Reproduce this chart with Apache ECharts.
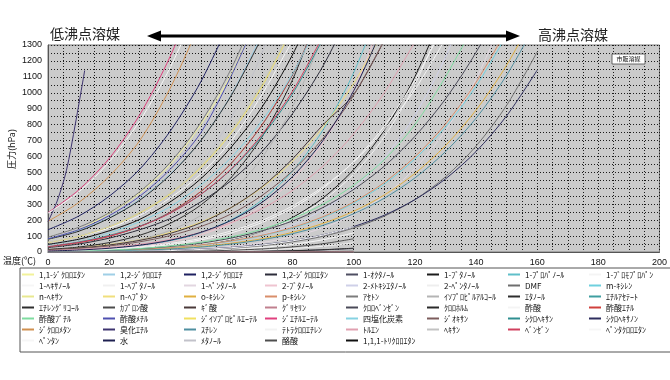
<!DOCTYPE html>
<html><head><meta charset="utf-8">
<script src="https://cdn.jsdelivr.net/npm/echarts@6/dist/echarts.min.js"></script>
<style>html,body{margin:0;padding:0;background:#fff}#c{width:670px;height:380px}</style>
</head><body><div id="c"></div>
<script>
// temperature grid (°C) shared by the series
const temps = [0,10,20,30,40,50,60,70,80,90,100,110,120,130,140,150,160];
const xTicks = [0,20,40,60,80,100,120,140,160,180,200];
const yTicks = [0,100,200,300,400,500,600,700,800,900,1000,1100,1200,1300];

// legend names (in legend order)
const seriesNames = [
 "1,1-ｼﾞｸﾛﾛｴﾀﾝ","1,2-ｼﾞｸﾛﾛｴﾁﾚﾝ(ｼｽ)","1,2-ｼﾞｸﾛﾛｴﾁﾚﾝ(ﾄﾗﾝｽ)","1,2-ｼﾞｸﾛﾛｴﾀﾝ","1-ｵｸﾀﾉｰﾙ","1-ﾌﾞﾀﾉｰﾙ","1-ﾌﾟﾛﾊﾟﾉｰﾙ","1-ﾌﾞﾛﾓﾌﾟﾛﾊﾟﾝ",
 "1-ﾍｷｻﾉｰﾙ","1-ﾍﾌﾟﾀﾉｰﾙ","1-ﾍﾟﾝﾀﾉｰﾙ","2-ﾌﾞﾀﾉｰﾙ","2-ﾒﾄｷｼｴﾀﾉｰﾙ","2-ﾍﾟﾝﾀﾉｰﾙ","DMF","m-ｷｼﾚﾝ",
 "n-ﾍｷｻﾝ","n-ﾍﾌﾟﾀﾝ","o-ｷｼﾚﾝ","p-ｷｼﾚﾝ","ｱｾﾄﾝ","ｲｿﾌﾟﾛﾋﾟﾙｱﾙｺｰﾙ","ｴﾀﾉｰﾙ","ｴﾁﾙｱｾﾃｰﾄ",
 "ｴﾁﾚﾝｸﾞﾘｺｰﾙ","ｶﾌﾟﾛﾝ酸","ｷﾞ酸","ｸﾞﾘｾﾘﾝ","ｸﾛﾛﾍﾞﾝｾﾞﾝ","ｸﾛﾛﾎﾙﾑ","酢酸","酢酸ｴﾁﾙ",
 "酢酸ﾌﾞﾁﾙ","酢酸ﾒﾁﾙ","ｼﾞｲｿﾌﾟﾛﾋﾟﾙｴｰﾃﾙ","ｼﾞｴﾁﾙｴｰﾃﾙ","四塩化炭素","ｼﾞｵｷｻﾝ","ｼｸﾛﾍｷｻﾝ","ｼｸﾛﾍｷｻﾉﾝ",
 "ｼﾞｸﾛﾛﾒﾀﾝ","臭化ｴﾁﾙ","ｽﾁﾚﾝ","ﾃﾄﾗｸﾛﾛｴﾁﾚﾝ","ﾄﾙｴﾝ","ﾍｷｻﾝ","ﾍﾞﾝｾﾞﾝ","ﾍﾟﾝﾀｸﾛﾛｴﾀﾝ",
 "ﾍﾟﾝﾀﾝ","水","ﾒﾀﾉｰﾙ","酪酸","1,1,1-ﾄﾘｸﾛﾛｴﾀﾝ"
];

// vapour pressure (hPa) read at temps 0,10,20,... (each list stops just past 1300)
const p01 = [77,140,243,370,550,800,1120,1550];
const p02 = [80,135,215,330,490,700,990,1370];
const p03 = [140,225,350,520,760,1070,1470];
const p04 = [28,50,87,140,210,315,450,630,870,1170,1550];
const p05 = [0,0.1,0.2,0.4,0.8,1.3,2.4,4.4,7.8,13.4,22];
const p06 = [1.3,2.8,5.6,11.5,24,45,79,131,217,340,518,765,1101,1547];
const p07 = [4.2,9.4,19.4,37.7,69,121,203,326,508,768,1127,1614];
const p08 = [60,100,150,230,340,490,700,990,1330];
const p09 = [0.3,0.8,1.5,3,5.5,10,17,29,48,77,120];
const p10 = [0.2,0.5,1,1.5,2.3,4.2,7.6,13,22,36,58];
const p11 = [0.7,1.5,3.1,6,11,20,35,59,96,152,235,354,525,762,1086,1523];
const p12 = [5,10,20,36,64,109,181,290,453,690,1019,1502];
const p13 = [1.5,3.2,6.6,12.5,22,39,66,108,171,265,400,592,859,1224,1713];
const p14 = [2,4,8,15,28,48,81,132,209,324,489,724,1050,1496];
const p15 = [0.8,1.5,3.5,5,8,14,24,40,64,99,151,225,329,472,665,921,1257];
const p16 = [3,5.6,10,17,27,44,68,102,150,217,307,427,584,785,1041,1363];
const p17 = [61,101,162,250,372,540,764,1055,1420];
const p18 = [15,27,47,78,123,188,280,405,570,785,1060,1400];
const p19 = [2.3,4.3,7.6,13,22,35,55,83,124,180,256,358,493,668,891,1173,1525];
const p20 = [3,5.8,10.5,17.5,28,45,70,105,154,222,314,437,598,803,1066,1395];
const p21 = [93,155,246,378,563,815,1154,1590];
const p22 = [11,22.4,42.6,77.7,136,229,374,592,911,1368];
const p23 = [16,31,59,105,180,295,470,723,1083,1580];
const p24 = [32.5,58,98.4,160,250,380,558,798,1115,1524];
const p25 = [0,0.1,0.1,0.3,0.8,1.5,2.6,4.7,8.4,14.3,24];
const p26 = [0,0,0,0,0.1,0.2,0.4,0.8,1.5,3,5];
const p27 = [15,25,44,73,117,183,280,410,585,800,990,1330];
const p28 = [0,0,0,0,0,0,0,0,0,0.1,0.2];
const p29 = [3.3,6.5,11.9,20.8,35,56,88,133,195,280,393,539,726,961,1254,1612];
const p30 = [80,130,212,325,485,700,985,1350];
const p31 = [4.1,8.2,15.3,27.3,46.5,76,120.5,185,276,401,569,791,1079,1447];
const p32 = [32.5,58,98.4,160,250,380,558,798,1115,1524];
const p33 = [4,7.5,13,22,38,61,95,143,210,300,420,580,800,1100,1450];
const p34 = [83,140,228,350,520,750,1110,1540];
const p35 = [59,98,159,245,365,530,750,1040,1410];
const p36 = [247,389,587,862,1230,1700];
const p37 = [44,75,120,190,285,420,595,825,1120,1500];
const p38 = [12,22,38,64,103,160,240,355,510,715,985,1330];
const p39 = [35,63,104,162,246,362,520,726,995,1340];
const p40 = [1,1.9,3.3,6,10.5,17.7,29,46,71,108,160,231,329,459,631,855,1142];
const p41 = [193,310,475,700,1030,1450];
const p42Temps = [0,3,6,9,12];
const p42 = [190,320,510,810,1140];
const p43 = [1.5,3,6,11,19,31,50,77,115,168,240,338,465,630,840,1110,1450];
const p44 = [6,11,19,32,54,85,133,198,290,410,565,770,1020,1340];
const p45 = [9,17,29,49,79,123,185,272,387,540,742,1000,1320];
const p46 = [61,101,162,250,372,540,764,1055,1420];
const p47 = [35,60,100,160,244,362,523,738,1010,1360];
const p48 = [0.5,1.2,2.5,5,9,16,27,44,70,107,160];
const p49 = [244,376,566,823,1160,1590];
const p50 = [6.1,12.3,23.4,42.5,73.8,123.5,199.4,311.8,473.9,701.4,1013.3,1433];
const p51 = [40,73,128,218,354,556,845,1250,1810];
const p52 = [0.2,0.4,0.8,1.5,3,6,11,19,32,52,83];
const p53 = [48,80,133,205,315,460,660,910,1240,1650];

const seriesValues = [p01,p02,p03,p04,p05,p06,p07,p08,p09,p10,p11,p12,p13,p14,p15,p16,p17,p18,p19,p20,
 p21,p22,p23,p24,p25,p26,p27,p28,p29,p30,p31,p32,p33,p34,p35,p36,p37,p38,p39,p40,p41,p42,p43,p44,p45,
 p46,p47,p48,p49,p50,p51,p52,p53];
const seriesTemps = {41: p42Temps};

const seriesColors = [
 '#f2f29a','#9fcfe6','#1e2060','#2c2c3a','#4e4e62','#1c1c1c','#5fbfc9','#f4f4f4',
 '#f6f6f6','#f0f0f0','#e2d6e0','#efc4d0','#cfd0e8','#eeeeee','#6e6e6e','#6fd0de',
 '#e8e890','#f0df7c','#e0b040','#d98e6a','#7c7c7c','#b4b4b4','#2e2e2e','#3f9ea0',
 '#2e2e2e','#4c4c4c','#4a3a3a','#c0808f','#4a4a58','#2a2a2a','#f4f4f4','#d0403c',
 '#7fdca0','#4f50b0','#f0e060','#e0407e','#86d2e2','#7c5c5c','#2f8f90','#2e2e5e',
 '#d09050','#3e3470','#4f8fa0','#f2f2f2','#e0a0b0','#c2c2c2','#d0405e','#f6f6f6',
 '#f6f6f6','#1e2050','#c2c2ca','#4e4e4e','#101010'
];

const series = seriesNames.map((name, i) => {
  const t = seriesTemps[i] || temps;
  return {
    name, type: 'line', smooth: 0.3, symbol: 'none',
    clip: true, z: 3,
    lineStyle: {width: 1, color: seriesColors[i]},
    itemStyle: {color: seriesColors[i]},
    data: seriesValues[i].map((v, k) => [t[k], v])
  };
});

const chart = echarts.init(document.getElementById('c'), null, {renderer: 'canvas'});
const dotted = {color: '#1a1a1a', width: 1, type: [1, 2]};
chart.setOption({
  animation: false,
  backgroundColor: '#ffffff',
  grid: {left: 48, top: 45, width: 612, height: 207, show: true,
         backgroundColor: '#cbcbcb', borderColor: '#7a7a7a', borderWidth: 1},
  xAxis: {type: 'value', min: xTicks[0], max: xTicks[xTicks.length-1], interval: 20,
    axisLine: {show: true, onZero: false, lineStyle: {color: '#555'}},
    axisTick: {show: false},
    axisLabel: {color: '#111', fontSize: 9, fontFamily: 'Liberation Sans', margin: 6, formatter: v => String(v)},
    splitLine: {show: true, lineStyle: dotted},
    minorTick: {show: false, splitNumber: 4},
    minorSplitLine: {show: true, lineStyle: dotted}},
  yAxis: {type: 'value', min: yTicks[0], max: yTicks[yTicks.length-1], interval: 100,
    axisLine: {show: true, lineStyle: {color: '#555'}},
    axisTick: {show: false},
    axisLabel: {color: '#111', fontSize: 9, fontFamily: 'Liberation Sans', margin: 6, formatter: v => String(v)},
    splitLine: {show: true, lineStyle: dotted},
    minorTick: {show: false, splitNumber: 2},
    minorSplitLine: {show: true, lineStyle: dotted}},
  legend: {
    data: seriesNames, left: 20, top: 268, width: 650, orient: 'horizontal',
    itemWidth: 12, itemHeight: 2, itemGap: 0, icon: 'rect',
    padding: [1, 2, 6, 2], borderColor: '#555', borderWidth: 1,
    backgroundColor: '#ffffff',
    textStyle: {fontSize: 8, lineHeight: 11, color: '#111', fontFamily: 'Noto Sans CJK JP',
      width: 64, overflow: 'truncate', ellipsis: ''}
  },
  graphic: [
    {type: 'text', left: 50, top: 27, style: {text: '低沸点溶媒', fontSize: 14, fill: '#222', fontFamily: 'Noto Sans CJK JP'}},
    {type: 'text', left: 538, top: 28, style: {text: '高沸点溶媒', fontSize: 14, fill: '#222', fontFamily: 'Noto Sans CJK JP'}},
    {type: 'line', shape: {x1: 158, y1: 36, x2: 509, y2: 36}, style: {stroke: '#000', lineWidth: 3}},
    {type: 'polygon', shape: {points: [[147,36],[161,30.5],[161,41.5]]}, style: {fill: '#000'}},
    {type: 'polygon', shape: {points: [[520,36],[506,30.5],[506,41.5]]}, style: {fill: '#000'}},
    {type: 'text', x: 12, y: 149, rotation: Math.PI/2,
      style: {text: '圧力(hPa)', fontSize: 9, fill: '#111', align: 'center', verticalAlign: 'middle', fontFamily: 'Noto Sans CJK JP'}},
    {type: 'text', left: 3, top: 256, style: {text: '温度(℃)', fontSize: 9, fill: '#111', fontFamily: 'Noto Sans CJK JP'}},
    {type: 'rect', shape: {x: 612, y: 54, width: 33, height: 10}, style: {fill: '#fff', stroke: '#444', lineWidth: 0.8}, z: 10},
    {type: 'text', x: 628.5, y: 59, z: 11, style: {text: '市販溶媒', fontSize: 6, fill: '#111', align: 'center', verticalAlign: 'middle', fontFamily: 'Noto Sans CJK JP'}}
  ],
  series
});
</script></body></html>
